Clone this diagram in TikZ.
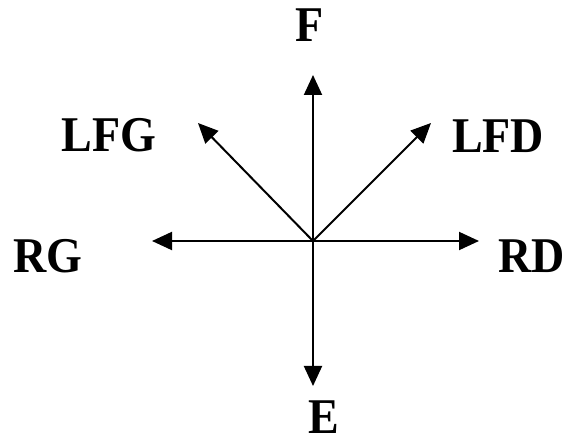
\documentclass[tikz,border=0pt]{standalone}
\usepackage{fontspec}
\setmainfont{Liberation Serif}[FakeStretch=0.92]
\usetikzlibrary{arrows.meta}
\tikzset{
  lbl/.style={inner sep=0pt, anchor=base, font=\fontsize{50}{50}\selectfont\bfseries},
  vec/.style={line width=2pt, -{Triangle[length=20pt,width=18pt]}}
}
\begin{document}
\begin{tikzpicture}[x=1pt,y=-1pt]
\useasboundingbox (0,0) rectangle (568,446);
\coordinate (O) at (313,241);
\coordinate (tF) at (313,75);
\coordinate (tLFG) at (198,123);
\coordinate (tLFD) at (431,123);
\coordinate (tRG) at (152,241);
\coordinate (tRD) at (479,241);
\coordinate (tE) at (313,386);
\node[lbl] (F) at (310,42) {F};
\node[lbl] (LFG) at (109,152) {LFG};
\node[lbl] (LFD) at (498,153) {LFD};
\node[lbl] (RG) at (47.5,273) {RG};
\node[lbl] (RD) at (532,273) {RD};
\node[lbl] (E) at (324,434) {E};
\draw[vec] (O) -- (tF);
\draw[vec] (O) -- (tLFG);
\draw[vec] (O) -- (tLFD);
\draw[vec] (O) -- (tRG);
\draw[vec] (O) -- (tRD);
\draw[vec] (O) -- (tE);
\end{tikzpicture}
\end{document}
